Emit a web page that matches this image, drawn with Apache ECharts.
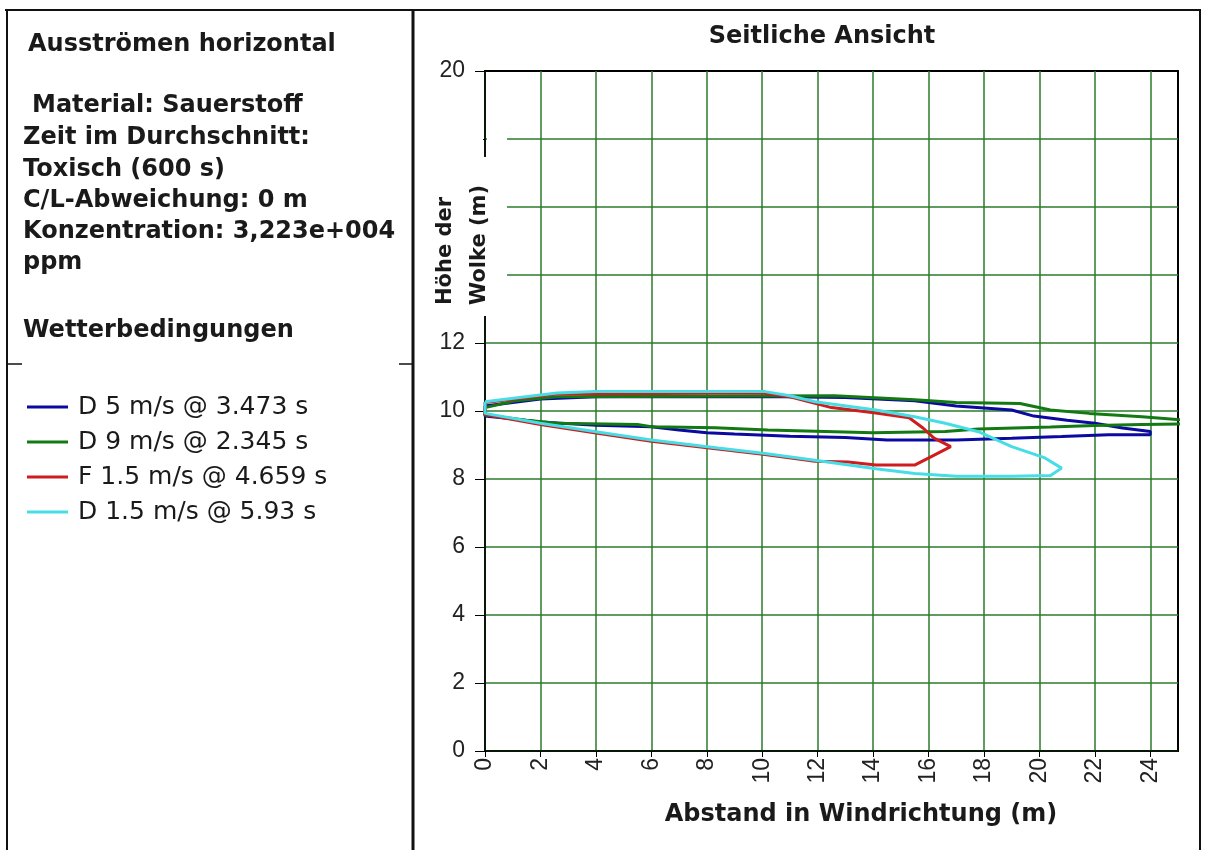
<!DOCTYPE html>
<html>
<head>
<meta charset="utf-8">
<script src="https://cdn.jsdelivr.net/npm/echarts@6/dist/echarts.min.js"></script>
<style>
  html, body { margin: 0; padding: 0; background: #fff; }
  #chart { width: 1212px; height: 850px; }
</style>
</head>
<body>
<div id="chart"></div>
<script>
// cloud outlines, [abstand (m), hoehe (m)], traced around each contour
var blueOutline = [
    [0, 10.15], [1, 10.25], [2, 10.35], [4, 10.42], [10, 10.43], [13, 10.4], [15.5, 10.3], [17, 10.15],
    [19, 10.03], [19.8, 9.85], [21, 9.73], [22, 9.64], [23, 9.5], [24, 9.4], [24, 9.3], [22.5, 9.3],
    [20.8, 9.25], [19, 9.2], [17, 9.15], [14.5, 9.15], [13, 9.22], [11, 9.26], [9, 9.32], [8, 9.36],
    [7, 9.44], [6, 9.54], [4, 9.58], [2, 9.68], [0, 9.85], [0, 10.15]
];
var greenOutline = [
    [0, 10.1], [1.1, 10.3], [2.6, 10.42], [12.6, 10.45], [15.5, 10.33], [17, 10.25], [19.3, 10.22],
    [20.4, 10.03], [21.8, 9.93], [23.7, 9.83], [25.4, 9.72], [25.4, 9.62], [23.7, 9.6], [22, 9.57],
    [20.4, 9.53], [17.8, 9.47], [16.6, 9.4], [14, 9.36], [10.2, 9.44], [8.3, 9.51], [6, 9.54],
    [5.5, 9.6], [2.6, 9.64], [1.5, 9.73], [0, 9.88], [0, 10.1]
];
var redOutline = [
    [0, 10.25], [2.6, 10.5], [10, 10.53], [11, 10.42], [12.5, 10.1], [14.1, 9.94], [15.3, 9.8],
    [15.8, 9.5], [16.2, 9.2], [16.8, 8.95], [16.1, 8.66], [15.5, 8.41], [14.1, 8.41], [13.1, 8.5],
    [11.9, 8.52], [10.1, 8.72], [8.4, 8.88], [6, 9.11], [4, 9.35], [2, 9.6], [0, 9.9], [0, 10.25]
];
var cyanOutline = [
    [0, 10.27], [1.1, 10.38], [2.6, 10.53], [4, 10.57], [10.1, 10.57], [11, 10.45], [11.9, 10.27],
    [14.1, 10.03], [15.5, 9.83], [16.6, 9.64], [17.8, 9.39], [19, 8.95], [20.2, 8.62], [20.8, 8.32],
    [20.4, 8.1], [19, 8.08], [17, 8.08], [15.5, 8.16], [14.1, 8.3], [11.9, 8.55], [10.1, 8.75],
    [8.4, 8.91], [6, 9.15], [4, 9.39], [2, 9.64], [0, 9.93], [0, 10.27]
];

var seriesNames = ['D 5 m/s @ 3.473 s', 'D 9 m/s @ 2.345 s', 'F 1.5 m/s @ 4.659 s', 'D 1.5 m/s @ 5.93 s'];
var seriesColors = ['#0a0aa0', '#137a13', '#d01c1c', '#46dde6'];
var outlines = [blueOutline, greenOutline, redOutline, cyanOutline];

var infoLines = [
    ['Ausströmen horizontal', 28, 45],
    ['Material: Sauerstoff', 32, 106],
    ['Zeit im Durchschnitt:', 23, 138],
    ['Toxisch (600 s)', 23, 170],
    ['C/L-Abweichung: 0 m', 23, 201],
    ['Konzentration: 3,223e+004', 23, 232],
    ['ppm', 23, 263],
    ['Wetterbedingungen', 23, 331]
];

var hiddenYLabels = [14, 16, 18];

var FONT = 'DejaVu Sans';
var frameColor = '#111';
var gridGreen = '#2b7a2b';

function frameLine(x1, y1, x2, y2, w) {
    return {
        type: 'line', z: 120,
        shape: { x1: x1, y1: y1, x2: x2, y2: y2 },
        style: { stroke: frameColor, lineWidth: w }
    };
}

function whiteBox(x, y, w, h) {
    return {
        type: 'rect', z: 110,
        shape: { x: x, y: y, width: w, height: h },
        style: { fill: '#fff' }
    };
}

var graphics = [];
// panel borders
graphics.push(frameLine(5, 10, 1201, 10, 2));
graphics.push(frameLine(7, 10, 7, 850, 2));
graphics.push(frameLine(413, 10, 413, 850, 3));
graphics.push(frameLine(1200, 10, 1200, 850, 2));
graphics.push(frameLine(7, 364, 22, 364, 1.5));
graphics.push(frameLine(399, 364, 412, 364, 1.5));

// info text in left panel
infoLines.forEach(function (l) {
    graphics.push({
        type: 'text', z: 120, x: l[1], y: l[2],
        style: {
            text: l[0], fill: '#1a1a1a', font: 'bold 24px "' + FONT + '"',
            textAlign: 'left', textVerticalAlign: 'middle'
        }
    });
});

// y-axis title sits on a white patch over the axis
graphics.push(whiteBox(425, 157, 82, 159));
graphics.push(whiteBox(425, 125, 58, 32));
graphics.push(whiteBox(487, 125, 20, 32));
graphics.push({
    type: 'text', z: 121, x: 463, y: 305, rotation: Math.PI / 2,
    style: {
        text: 'Höhe der\nWolke (m)', fill: '#1a1a1a', font: 'bold 21px "' + FONT + '"',
        lineHeight: 34, textAlign: 'left', textVerticalAlign: 'middle'
    }
});
graphics.push({
    type: 'text', z: 121, x: 822, y: 37,
    style: {
        text: 'Seitliche Ansicht', fill: '#1a1a1a', font: 'bold 24px "' + FONT + '"',
        textAlign: 'center', textVerticalAlign: 'middle'
    }
});
graphics.push({
    type: 'text', z: 121, x: 861, y: 815,
    style: {
        text: 'Abstand in Windrichtung (m)', fill: '#1a1a1a', font: 'bold 24px "' + FONT + '"',
        textAlign: 'center', textVerticalAlign: 'middle'
    }
});

var series = [];
for (var i = 0; i < outlines.length; i++) {
    series.push({
        name: seriesNames[i],
        type: 'line',
        data: outlines[i],
        showSymbol: false,
        symbol: 'none',
        clip: true,
        lineStyle: { color: seriesColors[i], width: 3 },
        itemStyle: { color: seriesColors[i] },
        z: 3 + i
    });
}

var dom = document.getElementById('chart');
var myChart = echarts.init(dom, null, { renderer: 'canvas' });

var option = {
    backgroundColor: '#fff',
    animation: false,
    legend: {
        orient: 'vertical',
        left: 22,
        top: 387,
        itemWidth: 41,
        itemHeight: 3,
        itemGap: 5,
        icon: 'rect',
        selectedMode: false,
        data: seriesNames,
        textStyle: {
            fontFamily: FONT, fontSize: 25, color: '#1a1a1a',
            lineHeight: 30, padding: [0, 0, 0, 5]
        }
    },
    grid: {
        left: 485, top: 71, width: 693, height: 680,
        show: true, borderColor: '#000', borderWidth: 2, backgroundColor: '#fff'
    },
    xAxis: {
        type: 'value', min: 0, max: 25, interval: 2,
        axisLine: { show: true, lineStyle: { color: '#000', width: 1.5 } },
        axisTick: { show: true, length: 6, lineStyle: { color: '#000' } },
        axisLabel: {
            rotate: 90, margin: 7, fontFamily: 'Liberation Sans', fontSize: 23, color: '#222',
            showMaxLabel: false
        },
        splitLine: { show: true, showMaxLine: false, lineStyle: { color: gridGreen, width: 1.5 } }
    },
    yAxis: {
        type: 'value', min: 0, max: 20, interval: 2,
        axisLine: { show: true, lineStyle: { color: '#000', width: 1.5 } },
        axisTick: { show: true, length: 10, lineStyle: { color: '#000' } },
        axisLabel: {
            margin: 20, fontFamily: 'Liberation Sans', fontSize: 23, color: '#222',
            formatter: function (v) {
                return hiddenYLabels.indexOf(v) >= 0 ? '' : String(v);
            }
        },
        splitLine: { show: true, showMaxLine: false, lineStyle: { color: gridGreen, width: 1.5 } }
    },
    graphic: graphics,
    series: series
};

if (option && typeof option === 'object') {
    myChart.setOption(option, true);
}
</script>
</body>
</html>
